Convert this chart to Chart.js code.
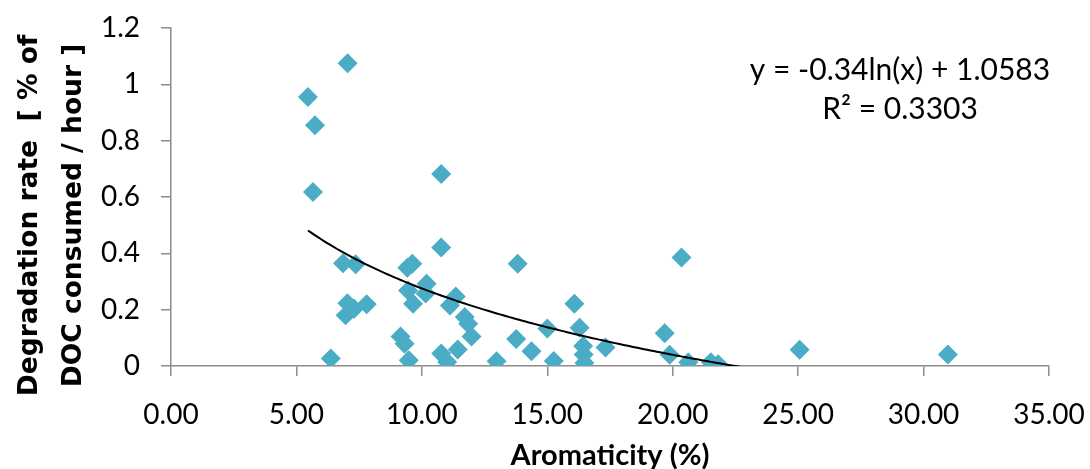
<!DOCTYPE html>
<html>
<head>
<meta charset="utf-8">
<script src="https://cdn.jsdelivr.net/npm/chart.js@4.4.1/dist/chart.umd.min.js"></script>
<style>
  html, body { margin: 0; padding: 0; background: #ffffff; }
  #wrap { width: 1090px; height: 469px; }
</style>
</head>
<body>
<div id="wrap"><canvas id="c" width="1090" height="469"></canvas></div>
<script>
// Aromaticity (%) of each sample
const aromaticity = [
  5.46, 5.74, 5.66, 7.04, 6.86, 7.36, 7.03, 7.80, 6.96, 7.30,
  6.37, 9.42, 9.62, 10.77, 10.77, 10.19, 10.15, 9.45, 9.65, 11.35,
  11.12, 11.71, 11.85, 11.98, 9.15, 9.31, 9.48, 10.77, 11.01, 11.43,
  12.98, 13.82, 13.76, 14.37, 15.00, 15.26, 16.08, 16.29, 16.43, 16.45,
  16.48, 17.32, 19.68, 20.35, 19.88, 20.62, 21.52, 21.81, 25.06, 30.97
];
// Degradation rate [% of DOC consumed / hour]
const degradation = [
  0.955, 0.855, 0.618, 1.075, 0.365, 0.361, 0.223, 0.219, 0.180, 0.203,
  0.027, 0.349, 0.363, 0.682, 0.421, 0.292, 0.257, 0.268, 0.221, 0.247,
  0.215, 0.174, 0.150, 0.105, 0.105, 0.079, 0.020, 0.044, 0.014, 0.059,
  0.017, 0.363, 0.096, 0.052, 0.133, 0.018, 0.221, 0.136, 0.071, 0.041,
  0.011, 0.066, 0.116, 0.385, 0.040, 0.013, 0.013, 0.006, 0.058, 0.041
];
// Logarithmic trendline coefficients printed on the chart: y = a ln(x) + b
const trendCoef = [-0.34, 1.0583];
const equationLines = ['y = -0.34ln(x) + 1.0583', 'R\u00B2 = 0.3303'];

const xTickLabels = ['0.00', '5.00', '10.00', '15.00', '20.00', '25.00', '30.00', '35.00'];
const yTickLabels = ['0', '0.2', '0.4', '0.6', '0.8', '1', '1.2'];

const xTitle = 'Aromaticity (%)';
const yTitle = ['Degradation rate  [ % of', 'DOC consumed / hour ]'];

// scatter points
const points = aromaticity.map((x, i) => ({ x: x, y: degradation[i] }));

// trendline sampled along the fitted equation across the data's x range
const xMin = Math.min(...aromaticity);
const xMax = Math.max(...aromaticity);
const trendPoints = [];
const N = 200;
for (let k = 0; k <= N; k++) {
  const x = xMin + (xMax - xMin) * k / N;
  trendPoints.push({ x: x, y: trendCoef[0] * Math.log(x) + trendCoef[1] });
}

const axisGray = '#8c8c8c';

const equationPlugin = {
  id: 'equationText',
  afterDatasetsDraw(chart) {
    const ctx = chart.ctx;
    ctx.save();
    ctx.fillStyle = '#000000';
    ctx.font = '30px Lato';
    ctx.textAlign = 'center';
    ctx.textBaseline = 'alphabetic';
    ctx.fillText(equationLines[0], 900, 80);
    ctx.fillText(equationLines[1], 900, 119);
    ctx.restore();
  }
};

new Chart(document.getElementById('c'), {
  type: 'scatter',
  data: {
    datasets: [
      {
        type: 'line',
        label: 'Log. trend',
        data: trendPoints,
        borderColor: '#000000',
        borderWidth: 2,
        pointRadius: 0,
        fill: false,
        tension: 0,
        order: 0
      },
      {
        label: 'Degradation rate',
        data: points,
        pointStyle: 'rectRot',
        pointRadius: 10,
        pointHoverRadius: 10,
        backgroundColor: '#4BACC6',
        borderColor: '#4BACC6',
        borderWidth: 0,
        order: 1
      }
    ]
  },
  options: {
    responsive: false,
    animation: false,
    devicePixelRatio: 1,
    layout: { padding: { left: 0, right: 41, top: 28, bottom: 0 } },
    plugins: {
      legend: { display: false },
      tooltip: { enabled: false }
    },
    scales: {
      x: {
        type: 'linear',
        min: 0,
        max: 35,
        ticks: {
          stepSize: 5,
          color: '#000000',
          font: { family: 'Lato', size: 28 },
          padding: 22,
          callback: (v, i) => xTickLabels[i]
        },
        grid: {
          display: true,
          drawOnChartArea: false,
          drawTicks: true,
          tickLength: 10,
          color: axisGray,
          lineWidth: 1.5
        },
        border: { display: true, color: axisGray, width: 1.5 },
        title: {
          display: true,
          text: xTitle,
          color: '#000000',
          font: { family: 'Lato', size: 29, weight: 'bold', lineHeight: 1 },
          padding: { top: 0, bottom: -1 }
        },
        afterFit: (s) => { s.height = 103; s.paddingLeft = 0; s.paddingRight = 0; }
      },
      y: {
        type: 'linear',
        min: 0,
        max: 1.2,
        ticks: {
          stepSize: 0.2,
          color: '#000000',
          font: { family: 'Lato', size: 28 },
          padding: 21,
          callback: (v, i) => yTickLabels[i]
        },
        grid: {
          display: true,
          drawOnChartArea: false,
          drawTicks: true,
          tickLength: 10,
          color: axisGray,
          lineWidth: 1.5
        },
        border: { display: true, color: axisGray, width: 1.5 },
        title: {
          display: true,
          text: yTitle.map(t => t + '    '),
          color: '#000000',
          font: { family: 'DejaVu Sans', size: 26.5, weight: 'bold', lineHeight: '44px' },
          padding: { top: 8, bottom: 0 }
        },
        afterFit: (s) => { s.width = 171; s.paddingTop = 0; s.paddingBottom = 0; }
      }
    }
  },
  plugins: [equationPlugin]
});
</script>
</body>
</html>
